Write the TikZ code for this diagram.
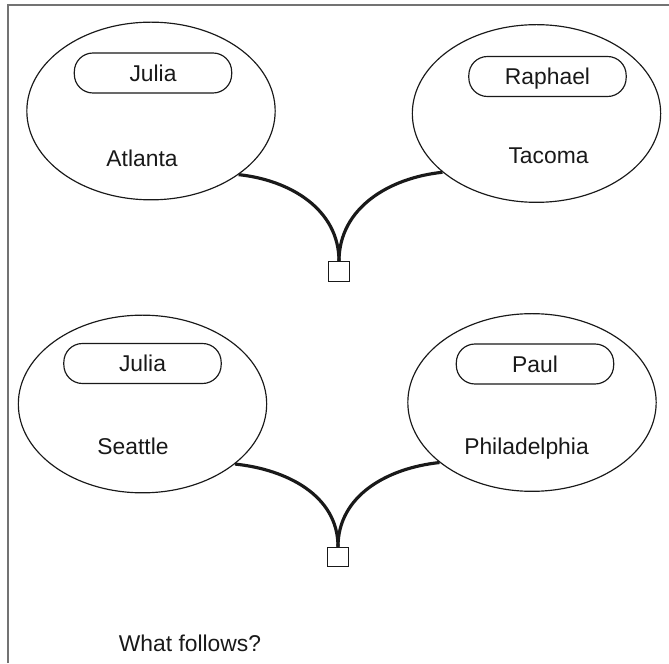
\documentclass[tikz,border=0pt]{standalone}
\usepackage{fontspec}
\setmainfont{Liberation Sans}
\usetikzlibrary{shapes.geometric}

\tikzset{place/.style={draw, ellipse, line width=1pt, inner sep=0pt, minimum width=7.45cm, minimum height=5.33cm}}
\tikzset{who/.style={draw, rounded corners=0.56cm, line width=1pt, minimum width=4.72cm, minimum height=1.2cm, text height=14pt, text depth=0pt}}
\tikzset{link/.style={line width=2.7pt, color=black!90}}
\tikzset{meet/.style={draw, line width=1pt, minimum width=0.64cm, minimum height=0.58cm, inner sep=0pt}}

\begin{document}
\begin{tikzpicture}[x=0.03cm, y=0.03cm, font=\fontsize{19.5}{23}\selectfont, black!90]
    \useasboundingbox (0,0) rectangle (669,663);
    \draw[black!55, line width=1.2pt] (8,0) -- (8,658) -- (669,658);

    \node[place] (atl) at (151,552) {};
    \node[who] (julia1) at (153,590) {Julia};
    \node[anchor=base] (atltext) at (142,496) {Atlanta};

    \node[place] (tac) at (536.5,549.5) {};
    \node[who] (raphael) at (547.5,586.5) {Raphael};
    \node[anchor=base] (tactext) at (548.5,499) {Tacoma};

    \node[meet] (sq1) at (339,391.5) {};

    \draw[link] (atl.-36) to[out=-6, in=90] (sq1.north);
    \draw[link] (tac.212) to[out=186, in=90] (sq1.north);

    \node[place] (sea) at (142.5,259) {};
    \node[who] (julia2) at (142.5,299.5) {Julia};
    \node[anchor=base] (seatext) at (133,208) {Seattle};

    \node[place] (phi) at (532,260.5) {};
    \node[who] (paul) at (535,299) {Paul};
    \node[anchor=base] (phitext) at (526.5,208) {Philadelphia};

    \node[meet] (sq2) at (338,106) {};

    \draw[link] (sea.-33) to[out=-6, in=90] (sq2.north);
    \draw[link] (phi.213) to[out=186, in=90] (sq2.north);

    \node[anchor=base] (question) at (190,12) {What follows?};
\end{tikzpicture}
\end{document}
